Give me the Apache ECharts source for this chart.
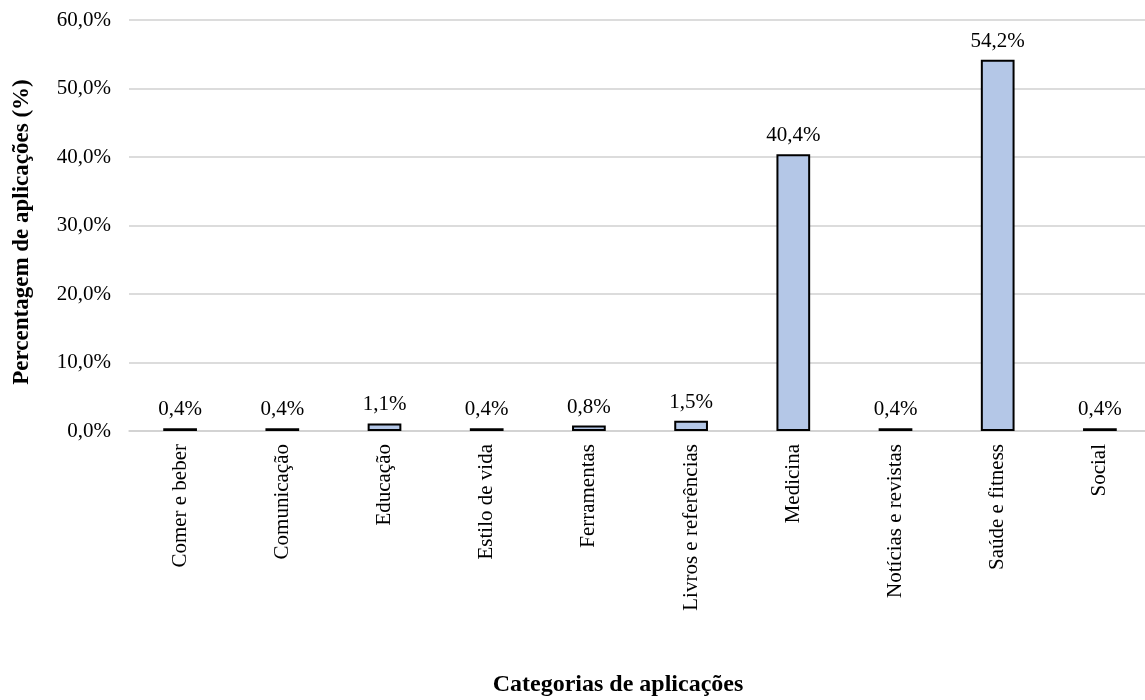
<!DOCTYPE html>
<html>
<head>
<meta charset="utf-8">
<script src="https://cdn.jsdelivr.net/npm/echarts@6/dist/echarts.min.js"></script>
<style>
  html, body { margin: 0; padding: 0; background: #fff; }
  #chart { width: 1145px; height: 700px; }
</style>
</head>
<body>
<div id="chart"></div>
<script>
// App categories and their share of applications (%)
const categories = [
  'Comer e beber', 'Comunicação', 'Educação', 'Estilo de vida', 'Ferramentas',
  'Livros e referências', 'Medicina', 'Notícias e revistas', 'Saúde e fitness', 'Social'
];
const shares = [0.4, 0.4, 1.1, 0.4, 0.8, 1.5, 40.4, 0.4, 54.2, 0.4];
const yTicks = { min: 0, max: 60, interval: 10 };

const FONT = '"Liberation Serif", "Times New Roman", serif';
const fmt = (v, d) => v.toFixed(d).replace('.', ',') + '%';

const chart = echarts.init(document.getElementById('chart'), null, { renderer: 'canvas' });
chart.setOption({
  animation: false,
  backgroundColor: '#ffffff',
  grid: {
    left: 129, top: 20, width: 1022, height: 411,
    containLabel: false, outerBoundsMode: 'none'
  },
  xAxis: {
    type: 'category',
    data: categories,
    axisLine: { show: true, lineStyle: { color: '#d0d0d0', width: 1.5 } },
    axisTick: { show: false },
    axisLabel: {
      rotate: 90, interval: 0, margin: 13,
      fontFamily: FONT, fontSize: 21, color: '#000'
    }
  },
  yAxis: {
    type: 'value',
    min: yTicks.min, max: yTicks.max, interval: yTicks.interval,
    axisLine: { show: false },
    axisTick: { show: false },
    axisLabel: {
      margin: 18, fontFamily: FONT, fontSize: 21, color: '#000',
      formatter: v => fmt(v, 1)
    },
    splitLine: { lineStyle: { color: '#d0d0d0', width: 1.5 } }
  },
  graphic: [{
    // y-axis title
    type: 'text',
    x: 22, y: 232,
    rotation: Math.PI / 2,
    style: {
      text: 'Percentagem de aplicações (%)',
      font: 'bold 23px ' + FONT,
      fill: '#000',
      align: 'center',
      verticalAlign: 'middle'
    }
  }, {
    // x-axis title
    type: 'text',
    x: 618, y: 685,
    style: {
      text: 'Categorias de aplicações',
      font: 'bold 24px ' + FONT,
      fill: '#000',
      align: 'center',
      verticalAlign: 'middle'
    }
  }],
  series: [{
    type: 'bar',
    data: shares,
    barWidth: '33%',
    itemStyle: { color: '#b4c7e7', borderColor: '#000', borderWidth: 2 },
    label: {
      show: true, position: 'top', distance: 8,
      fontFamily: FONT, fontSize: 21, color: '#000',
      formatter: p => fmt(p.value, 1)
    }
  }]
});
</script>
</body>
</html>
